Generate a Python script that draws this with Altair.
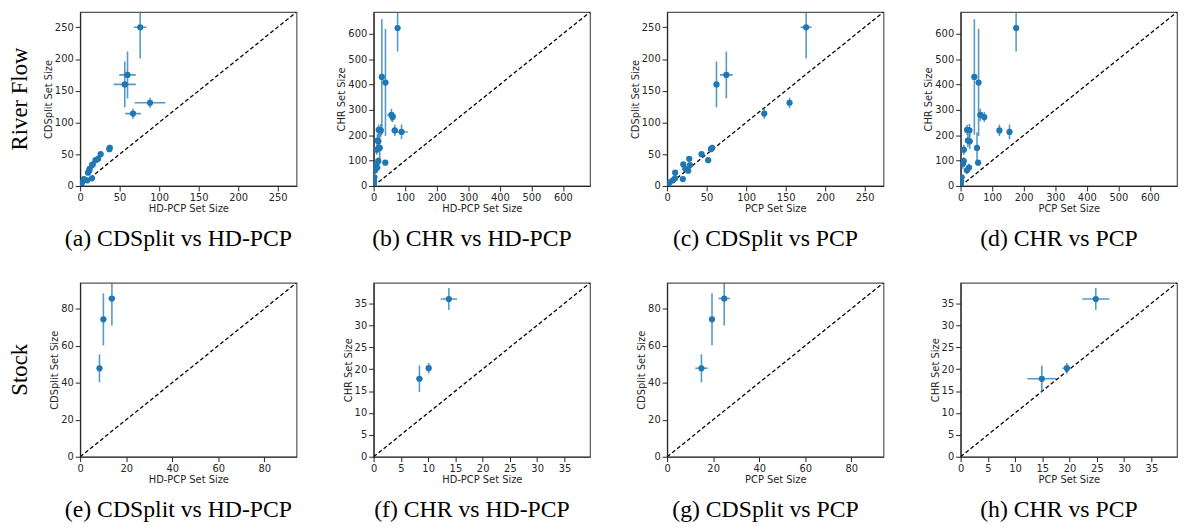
import altair as alt
import pandas as pd

# ---------------- River Flow data (one entry per instance) ----------------
rf_hdpcp     = [76, 60, 56.5, 88.5, 67, 37.5, 37, 26, 19.5, 22.8, 16, 15, 12, 11.5, 10, 15, 9, 4.7, 2.5, 1.5, 0.5]
rf_hdpcp_err = [8, 10.5, 14, 19.5, 10, 2, 2, 2, 1.5, 2, 1.5, 2, 1.5, 1.5, 1.5, 2, 1, 1, 0.5, 0.5, 0.3]
rf_pcp       = [176, 75, 62.5, 155, 123, 57, 55.5, 43.6, 52, 28, 20.5, 29, 23, 26.7, 10.2, 10, 7.4, 19.9, 3.3, 1.2, 0.5]
rf_pcp_err   = [7, 8, 3, 3, 3, 3, 2, 3, 2, 2, 2, 2, 2, 2, 1.5, 1.5, 1, 2, 0.5, 0.5, 0.3]
rf_cds       = [250, 175, 160, 131, 114, 60, 58, 50, 40.6, 42.7, 34, 33, 27, 24, 21, 12, 9, 10.9, 5.7, 3, 1]
rf_cds_err   = [49, 37, 36, 8, 8, 5, 4, 4, 3, 3, 3, 3, 3, 2, 2, 2, 1.5, 1.5, 1, 0.5, 0.5]
rf_chr       = [623, 272, 280, 213, 219, 408, 92, 430, 150, 219, 221, 176, 179, 72.8, 143, 98, 88, 62, 34, 20, 8]
rf_chr_err   = [93, 20, 25, 29, 22, 211, 8, 228, 62, 25, 20, 30, 25, 15, 20, 15, 20, 15, 10, 8, 5]

# ---------------- Stock data ----------------
st_hdpcp     = [8.4, 10.1, 13.8]
st_hdpcp_err = [0.6, 0.4, 1.5]
st_pcp       = [14.9, 19.5, 24.8]
st_pcp_err   = [2.65, 0.8, 2.5]
st_cds       = [47.8, 74.3, 85.5]
st_cds_err   = [7.6, 14.1, 14.6]
st_chr       = [17.8, 20.2, 36.0]
st_chr_err   = [3.0, 1.2, 2.5]

# axis limits and ticks per panel
lim_rf_cds, ticks_rf_cds = 274, [0, 50, 100, 150, 200, 250]
lim_rf_chr, ticks_rf_chr = 686, [0, 100, 200, 300, 400, 500, 600]
lim_st_cds, ticks_st_cds = 94, [0, 20, 40, 60, 80]
lim_st_chr, ticks_st_chr = 39.7, [0, 5, 10, 15, 20, 25, 30, 35]

captions = [
    "(a) CDSplit vs HD-PCP", "(b) CHR vs HD-PCP", "(c) CDSplit vs PCP", "(d) CHR vs PCP",
    "(e) CDSplit vs HD-PCP", "(f) CHR vs HD-PCP", "(g) CDSplit vs PCP", "(h) CHR vs PCP",
]
row_labels = ["River Flow", "Stock"]

BLUE = "#1f77b4"
INK = "#262626"
SERIF = "Liberation Serif"
SANS = "DejaVu Sans"
W, H = 219, 176


def table(x, xe, y, ye):
    return pd.DataFrame({
        "x": x, "xlo": [a - b for a, b in zip(x, xe)], "xhi": [a + b for a, b in zip(x, xe)],
        "y": y, "ylo": [a - b for a, b in zip(y, ye)], "yhi": [a + b for a, b in zip(y, ye)],
    })


def axis(title, ticks):
    return alt.Axis(
        title=title, values=ticks, grid=False, tickSize=5, tickWidth=1, tickColor=INK,
        domainColor=INK, domainWidth=1.2, labelFont=SANS, labelFontSize=10, labelColor=INK,
        labelPadding=2, labelFlush=False, labelOverlap=False, titleFont=SANS,
        titleFontSize=10, titleFontWeight="normal", titleColor=INK, titlePadding=1,
    )


def panel(x, xe, y, ye, lim, ticks, xtitle, ytitle, caption, rowlabel=None):
    df = table(x, xe, y, ye)
    sx = alt.Scale(domain=[0, lim], nice=False, zero=False)
    sy = alt.Scale(domain=[0, lim], nice=False, zero=False)
    ax_x, ax_y = axis(xtitle, ticks), axis(ytitle, ticks)

    def X(f):
        return alt.X(f, type="quantitative", scale=sx, axis=ax_x)

    def Y(f):
        return alt.Y(f, type="quantitative", scale=sy, axis=ax_y)

    diag = alt.Chart(pd.DataFrame({"x": [0, lim], "y": [0, lim]})).mark_line(
        color="black", strokeDash=[4, 2.5], strokeWidth=1.3, clip=True
    ).encode(x=X("x"), y=Y("y"))
    base = alt.Chart(df)
    xbar = base.mark_rule(color=BLUE, opacity=0.75, strokeWidth=1.6, clip=True).encode(
        x=X("xlo"), x2="xhi", y=Y("y"))
    ybar = base.mark_rule(color=BLUE, opacity=0.75, strokeWidth=1.6, clip=True).encode(
        x=X("x"), y=Y("ylo"), y2="yhi")
    pts = base.mark_circle(color=BLUE, opacity=1, size=40, clip=True).encode(x=X("x"), y=Y("y"))
    layers = [diag, xbar, ybar, pts]
    if rowlabel:
        lab = alt.Chart(pd.DataFrame({"t": [rowlabel]})).mark_text(
            angle=270, align="center", baseline="middle", font=SERIF, fontSize=23, color="black"
        ).encode(x=alt.value(-61), y=alt.value(88), text="t:N")
        layers.append(lab)
    return alt.layer(*layers).properties(
        width=W, height=H,
        title=alt.TitleParams(
            text=caption, orient="bottom", anchor="middle", frame="group", dx=-10, offset=14,
            font=SERIF, fontSize=24, fontWeight="normal", color="black",
        ),
    )


charts = [
    panel(rf_hdpcp, rf_hdpcp_err, rf_cds, rf_cds_err, lim_rf_cds, ticks_rf_cds,
          "HD-PCP Set Size", "CDSplit Set Size", captions[0], row_labels[0]),
    panel(rf_hdpcp, rf_hdpcp_err, rf_chr, rf_chr_err, lim_rf_chr, ticks_rf_chr,
          "HD-PCP Set Size", "CHR Set Size", captions[1]),
    panel(rf_pcp, rf_pcp_err, rf_cds, rf_cds_err, lim_rf_cds, ticks_rf_cds,
          "PCP Set Size", "CDSplit Set Size", captions[2]),
    panel(rf_pcp, rf_pcp_err, rf_chr, rf_chr_err, lim_rf_chr, ticks_rf_chr,
          "PCP Set Size", "CHR Set Size", captions[3]),
    panel(st_hdpcp, st_hdpcp_err, st_cds, st_cds_err, lim_st_cds, ticks_st_cds,
          "HD-PCP Set Size", "CDSplit Set Size", captions[4], row_labels[1]),
    panel(st_hdpcp, st_hdpcp_err, st_chr, st_chr_err, lim_st_chr, ticks_st_chr,
          "HD-PCP Set Size", "CHR Set Size", captions[5]),
    panel(st_pcp, st_pcp_err, st_cds, st_cds_err, lim_st_cds, ticks_st_cds,
          "PCP Set Size", "CDSplit Set Size", captions[6]),
    panel(st_pcp, st_pcp_err, st_chr, st_chr_err, lim_st_chr, ticks_st_chr,
          "PCP Set Size", "CHR Set Size", captions[7]),
]

chart = alt.concat(
    *charts, columns=4, spacing={"row": 98, "column": 78}, bounds="flush"
).properties(padding=0, background="white").configure_view(stroke="#555555", strokeWidth=1.2)

chart.save("out.html", embed_options={"renderer": "svg", "actions": False})
